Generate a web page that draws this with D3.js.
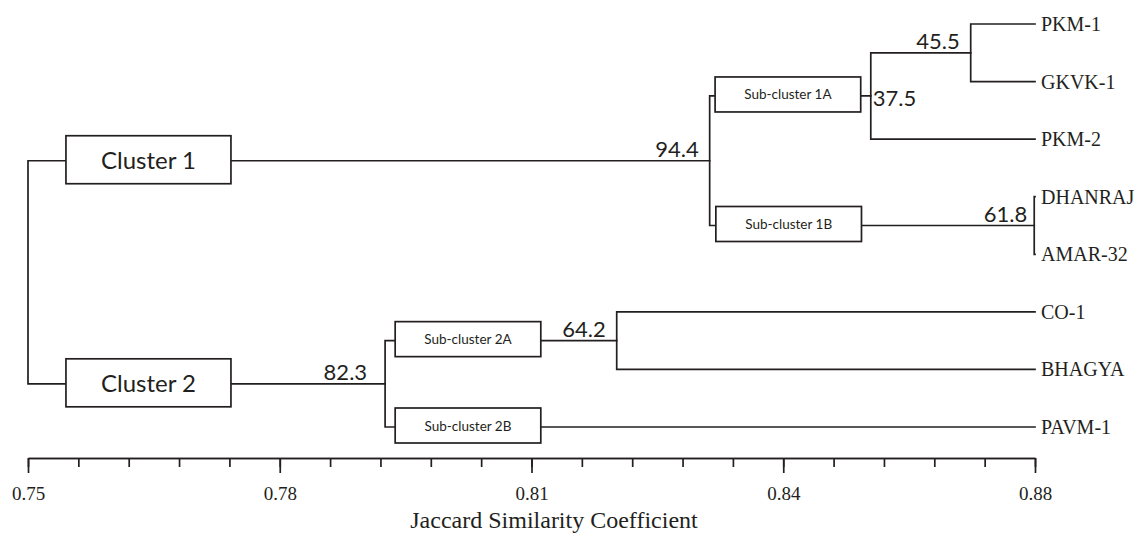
<!DOCTYPE html>
<html>
<head>
<meta charset="utf-8">
<script src="https://cdn.jsdelivr.net/npm/d3@7/dist/d3.min.js"></script>
<style>
  html, body { margin: 0; padding: 0; background: #fff; }
  svg { display: block; }
</style>
</head>
<body>
<svg id="chart" width="1142" height="535"></svg>
<script>
// ---------------- DATA ----------------
const leaves = ["PKM-1", "GKVK-1", "PKM-2", "DHANRAJ", "AMAR-32", "CO-1", "BHAGYA", "PAVM-1"];
const leafSim = 0.88;

// merge (internal) nodes of the dendrogram
const mergeIds      = ["n455", "n375", "n618", "n944", "n642", "n823", "root"];
const mergeSims     = [0.8717, 0.8588, 0.8799, 0.8380, 0.8260, 0.7961, 0.75];
const mergeLabels   = ["45.5", "37.5", "61.8", "94.4", "64.2", "82.3", ""];
const mergeChildren = [["PKM-1", "GKVK-1"], ["n455", "PKM-2"], ["DHANRAJ", "AMAR-32"],
                       ["n375", "n618"], ["CO-1", "BHAGYA"], ["n642", "PAVM-1"], ["n944", "n823"]];

// boxed branch annotations (label, child node of the boxed edge, extent in similarity units)
const boxLabels = ["Cluster 1", "Cluster 2", "Sub-cluster 1A", "Sub-cluster 1B", "Sub-cluster 2A", "Sub-cluster 2B"];
const boxEdges  = ["n944", "n823", "n375", "n618", "n642", "PAVM-1"];
const boxStart  = [0.7549, 0.7549, 0.8387, 0.8388, 0.7974, 0.7974];
const boxEnd    = [0.7762, 0.7762, 0.8575, 0.8576, 0.8162, 0.8162];
const boxKind   = ["major", "major", "minor", "minor", "minor", "minor"];

// axis
const axisDomain = [0.75, 0.88];
const minorTicks = d3.range(21).map(i => 0.75 + i * 0.0065);
const majorTicks = [0.75, 0.7825, 0.815, 0.8475, 0.88];
const tickLabels = ["0.75", "0.78", "0.81", "0.84", "0.88"];
const axisTitle = "Jaccard Similarity Coefficient";

// ---------------- LAYOUT ----------------
const svg = d3.select("#chart");
const ink = "#231f20";

const x = d3.scaleLinear().domain(axisDomain).range([28, 1035]);
const y = d3.scalePoint().domain(leaves).range([24, 427]);

// compute node positions
const pos = {};
leaves.forEach(l => { pos[l] = { x: x(leafSim), y: y(l) }; });
mergeIds.forEach((id, i) => {
  const ys = mergeChildren[i].map(c => pos[c].y);
  pos[id] = { x: x(mergeSims[i]), y: d3.mean(ys) };
});

// ---------------- TREE LINES ----------------
const gTree = svg.append("g")
  .attr("fill", "none").attr("stroke", ink).attr("stroke-width", 1.7);

mergeIds.forEach((id, i) => {
  const p = pos[id];
  const ch = mergeChildren[i].map(c => pos[c]);
  const ys = ch.map(c => c.y);
  const path = d3.path();
  path.moveTo(p.x, d3.min(ys));
  path.lineTo(p.x, d3.max(ys));
  ch.forEach(c => { path.moveTo(p.x, c.y); path.lineTo(c.x, c.y); });
  gTree.append("path").attr("d", path.toString()).attr("stroke-linecap", "square");
});

// ---------------- BOXES ----------------
const gBox = svg.append("g");
boxLabels.forEach((lab, i) => {
  const cy = pos[boxEdges[i]].y;
  const major = boxKind[i] === "major";
  const h = major ? 48 : 35;
  const x0 = x(boxStart[i]), x1 = x(boxEnd[i]);
  const top = cy - h / 2 - (major ? 1 : 1.5);
  gBox.append("rect")
    .attr("x", x0).attr("y", top)
    .attr("width", x1 - x0).attr("height", h)
    .attr("fill", "#fff").attr("stroke", ink).attr("stroke-width", 1.7);
  gBox.append("text")
    .attr("x", (x0 + x1) / 2)
    .attr("y", top + h / 2 + (major ? 9 : 5))
    .attr("text-anchor", "middle")
    .attr("font-family", "Lato, 'Open Sans', sans-serif")
    .attr("font-size", major ? 24 : 13.5)
    .attr("fill", ink)
    .text(lab);
});

// ---------------- NODE VALUE LABELS ----------------
const gNum = svg.append("g")
  .attr("font-family", "Lato, 'Open Sans', sans-serif")
  .attr("font-size", 22).attr("fill", ink);
mergeIds.forEach((id, i) => {
  if (!mergeLabels[i]) return;
  const p = pos[id];
  const t = gNum.append("text").text(mergeLabels[i]);
  if (mergeLabels[i] === "37.5") {
    t.attr("x", p.x + 2).attr("y", p.y + 10).attr("text-anchor", "start");
  } else {
    const off = mergeLabels[i] === "82.3" ? 18 : (mergeLabels[i] === "61.8" ? 7 : 11);
    t.attr("x", p.x - off).attr("y", p.y - 4).attr("text-anchor", "end");
  }
});

// ---------------- LEAF LABELS ----------------
svg.append("g")
  .attr("font-family", "'Liberation Serif', 'Times New Roman', serif")
  .attr("font-size", 20).attr("fill", ink)
  .selectAll("text").data(leaves).join("text")
  .attr("x", d => pos[d].x + 6)
  .attr("y", d => pos[d].y + 7)
  .text(d => d);

// ---------------- AXIS ----------------
const axisY = 458;
const minorAxis = d3.axisBottom(x).tickValues(minorTicks).tickSize(9).tickSizeOuter(0).tickFormat("");
const majorAxis = d3.axisBottom(x).tickValues(majorTicks).tickSize(15).tickSizeOuter(0).tickPadding(14)
  .tickFormat((d, i) => tickLabels[i]);

const gMinor = svg.append("g").attr("transform", `translate(0,${axisY})`).call(minorAxis);
const gMajor = svg.append("g").attr("transform", `translate(0,${axisY})`).call(majorAxis);
[gMinor, gMajor].forEach(g => {
  g.selectAll("path.domain").attr("stroke", ink).attr("stroke-width", 1.7);
  g.selectAll(".tick line").attr("stroke", ink).attr("stroke-width", 1.7);
});
gMajor.selectAll(".tick text")
  .attr("font-family", "'Liberation Serif', 'Times New Roman', serif")
  .attr("font-size", 19).attr("fill", ink);

svg.append("text")
  .attr("x", 554)
  .attr("y", 528)
  .attr("text-anchor", "middle")
  .attr("font-family", "'Liberation Serif', 'Times New Roman', serif")
  .attr("font-size", 24).attr("fill", ink)
  .text(axisTitle);
</script>
</body>
</html>
